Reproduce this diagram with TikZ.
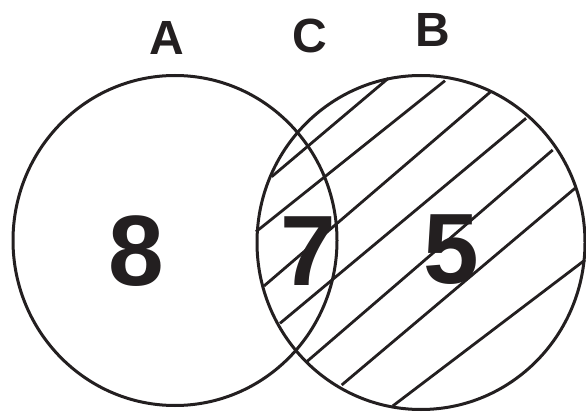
\documentclass[tikz,border=0pt]{standalone}
\usepackage{fontspec}
\setmainfont{Liberation Sans}
\definecolor{ink}{HTML}{231F20}
\tikzset{
  setline/.style={draw=ink, line width=3pt},
  hatchline/.style={draw=ink, line width=2.8pt},
  setname/.style={text=ink, inner sep=0pt, font=\fontsize{48}{48}\selectfont\bfseries},
  count/.style={text=ink, inner sep=0pt, font=\fontsize{100}{100}\selectfont\bfseries}
}
\begin{document}
\begin{tikzpicture}[x=1pt, y=-1pt]
    \useasboundingbox (0,0) rectangle (586,414);
    % the two sets
    \draw[setline] (175,240.5) ellipse [x radius=162, y radius=165];
    \draw[setline] (421,242.5) ellipse [x radius=164, y radius=167];
    % hatching of B
    \draw[hatchline] (271.7,176.7) -- (388.3,78.3);
    \draw[hatchline] (256,231.7) -- (445,80.7);
    \draw[hatchline] (264,286) -- (490.7,91.7);
    \draw[hatchline] (280,323.3) -- (526,118.3);
    \draw[hatchline] (306.7,361.7) -- (552.7,150);
    \draw[hatchline] (341.7,385) -- (575,188.3);
    \draw[hatchline] (392.7,406) -- (585,260);
    % names
    \node[setname] (A) at (167,37.5){A};
    \node[setname] (C) at (310,35.5){C};
    \node[setname] (B) at (433,30){B};
    % counts
    \node[count] (n8) at (136,251){8};
    \node[count] (n7) at (308,251){7};
    \node[count] (n5) at (451,250){5};
\end{tikzpicture}
\end{document}
